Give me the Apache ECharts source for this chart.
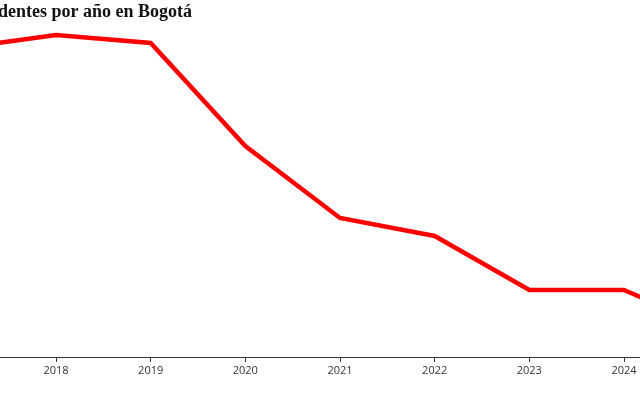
<!DOCTYPE html>
<html>
<head>
<meta charset="utf-8">
<script src="https://cdn.jsdelivr.net/npm/echarts@6/dist/echarts.min.js"></script>
<style>
html,body{margin:0;padding:0;width:640px;height:400px;overflow:hidden;background:#fff;}
#chart{position:absolute;left:-100px;top:0;width:840px;height:400px;}
</style>
</head>
<body>
<div id="chart"></div>
<script>
var titleText = 'Accidentes por año en Bogotá';
var years = [2017, 2018, 2019, 2020, 2021, 2022, 2023, 2024, 2025];
var accidentes = [30900, 32200, 31400, 21100, 13900, 12100, 6700, 6700, 2600];
var tickYears = [2018, 2019, 2020, 2021, 2022, 2023, 2024];

var chart = echarts.init(document.getElementById('chart'), null, {renderer: 'canvas'});
chart.setOption({
  animation: false,
  graphic: [{
    type: 'text',
    x: 292,
    y: 12,
    style: {
      text: titleText,
      font: 'bold 18px "Liberation Serif", serif',
      fill: '#111',
      textAlign: 'right',
      textVerticalAlign: 'middle'
    }
  }],
  grid: {left: 61.33, right: 21.33, top: 17, bottom: 43, containLabel: false},
  xAxis: {
    type: 'value',
    min: 2017,
    max: 2025,
    interval: 1,
    splitLine: {show: false},
    axisLine: {show: true, lineStyle: {color: '#333', width: 1}},
    axisTick: {show: true, length: 5, lineStyle: {color: '#333'}},
    axisLabel: {
      color: '#333',
      fontFamily: '"Open Sans", sans-serif',
      fontSize: 11,
      margin: 8,
      formatter: function (v) { return tickYears.indexOf(v) >= 0 ? String(v) : ''; }
    }
  },
  yAxis: {
    type: 'value',
    min: 0,
    max: 34000,
    show: false,
    splitLine: {show: false}
  },
  series: [{
    type: 'line',
    data: years.map(function (y, i) { return [y, accidentes[i]]; }),
    showSymbol: false,
    symbol: 'none',
    lineStyle: {color: '#ff0000', width: 4.5, join: 'miter'},
    itemStyle: {color: '#ff0000'}
  }]
});
</script>
</body>
</html>
